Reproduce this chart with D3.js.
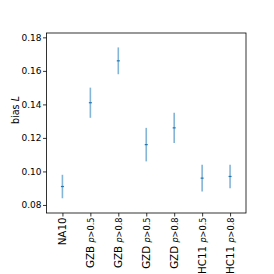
<!DOCTYPE html>
<html>
<head>
<meta charset="utf-8">
<script src="https://cdn.jsdelivr.net/npm/d3@7"></script>
<style>
  body { margin: 0; background: #fff; }
  text { font-family: "DejaVu Sans", sans-serif; }
</style>
</head>
<body>
<div id="chart"></div>
<script>
// chart data
const names = ['NA10', 'GZB', 'GZB', 'GZD', 'GZD', 'HC11', 'HC11']
const cuts = ['', 'p>0.5', 'p>0.8', 'p>0.5', 'p>0.8', 'p>0.5', 'p>0.8']
const bias = [0.091, 0.141, 0.166, 0.116, 0.126, 0.096, 0.097]
const biasErr = [0.007, 0.009, 0.008, 0.010, 0.009, 0.008, 0.007]
const yTicks = [0.08, 0.10, 0.12, 0.14, 0.16, 0.18]

const width = 274, height = 274
const margin = { left: 46.5, right: 28, top: 33, bottom: 61 }

const svg = d3.select('#chart').append('svg')
  .attr('width', width)
  .attr('height', height)

const x = d3.scaleLinear()
  .domain([-0.57, names.length - 1 + 0.57])
  .range([margin.left, width - margin.right])

const y = d3.scaleLinear()
  .domain([0.0752, 0.1826])
  .range([height - margin.bottom, margin.top])

// error bars
const pts = svg.append('g')
pts.selectAll('line.err')
  .data(bias)
  .enter()
  .append('line')
    .attr('class', 'err')
    .attr('x1', (d, i) => x(i))
    .attr('x2', (d, i) => x(i))
    .attr('y1', (d, i) => y(d - biasErr[i]))
    .attr('y2', (d, i) => y(d + biasErr[i]))
    .attr('stroke', '#1f77b4')
    .attr('stroke-opacity', 0.55)
    .attr('stroke-width', 1.6)
// centre markers
pts.selectAll('line.mid')
  .data(bias)
  .enter()
  .append('line')
    .attr('class', 'mid')
    .attr('x1', (d, i) => x(i) - 1.5)
    .attr('x2', (d, i) => x(i) + 1.5)
    .attr('y1', d => y(d))
    .attr('y2', d => y(d))
    .attr('stroke', '#1f77b4')
    .attr('stroke-width', 1.2)

// y axis
const yAxis = svg.append('g')
  .attr('transform', `translate(${margin.left},0)`)
  .call(d3.axisLeft(y).tickValues(yTicks).tickFormat(d3.format('.2f')).tickSize(3.5).tickPadding(1.5))
yAxis.select('.domain').remove()
yAxis.selectAll('line').attr('stroke', '#000').attr('stroke-width', 0.8)
yAxis.selectAll('text').attr('font-size', '9px').attr('fill', '#000')
  .attr('font-family', '"DejaVu Sans", sans-serif')

// x axis
const xAxis = svg.append('g')
  .attr('transform', `translate(0,${height - margin.bottom})`)
  .call(d3.axisBottom(x).tickValues(d3.range(names.length)).tickFormat('').tickSize(3.5))
xAxis.select('.domain').remove()
xAxis.selectAll('line').attr('stroke', '#000').attr('stroke-width', 0.8)

// rotated category labels
const lbl = svg.append('g').selectAll('text')
  .data(names)
  .enter()
  .append('text')
    .attr('transform', (d, i) => `translate(${x(i) + 3.5},${height - margin.bottom + 4.5}) rotate(-90)`)
    .attr('text-anchor', 'end')
    .attr('font-size', '10.3px')
    .attr('fill', '#000')
lbl.append('tspan').text(d => d)
lbl.each(function (d, i) {
  if (!cuts[i]) return
  const t = d3.select(this)
  // italic p, upright rest
  t.append('tspan').attr('font-size', '8.2px').attr('dx', 3.3).attr('font-style', 'italic').text('p')
  t.append('tspan').attr('font-size', '8.2px').text(cuts[i].slice(1))
})

// frame
svg.append('rect')
  .attr('x', margin.left)
  .attr('y', margin.top)
  .attr('width', width - margin.left - margin.right)
  .attr('height', height - margin.top - margin.bottom)
  .attr('fill', 'none')
  .attr('stroke', '#000')
  .attr('stroke-width', 0.8)

// y label
const yl = svg.append('text')
  .attr('transform', `translate(18.5,110) rotate(-90)`)
  .attr('text-anchor', 'middle')
  .attr('font-size', '9.6px')
  .attr('fill', '#000')
yl.append('tspan').text('bias ')
yl.append('tspan').attr('font-style', 'italic').text('L')
</script>
</body>
</html>
